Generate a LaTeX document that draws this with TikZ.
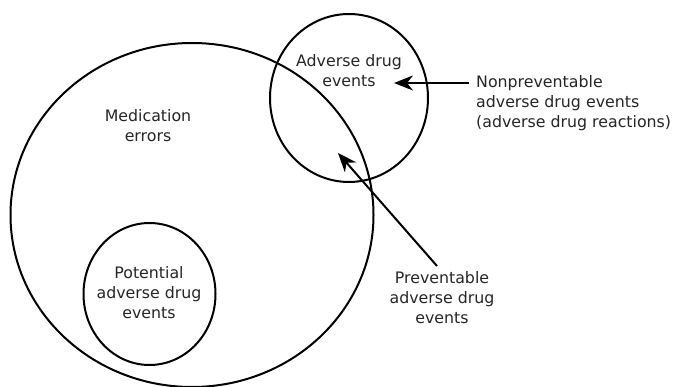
\documentclass[tikz,border=0pt]{standalone}
\usepackage{fontspec}
\setmainfont{DejaVu Sans}
\usetikzlibrary{shapes.geometric,arrows.meta}
\begin{document}
\begin{tikzpicture}[x=1pt,y=-1pt,
  ring/.style={draw=black,line width=2pt,ellipse,inner sep=0pt},
  lbl/.style={font=\fontsize{15.8}{20}\selectfont,align=center,inner sep=0pt,text=black!85},
  pointer/.style={line width=2pt,-{Stealth[length=19pt,width=15pt,inset=6pt]}}]
\useasboundingbox (0,0) rectangle (677,387);
\fill[white] (0,0) rectangle (677,387);
\node[ring,minimum width=363pt,minimum height=344pt] (me) at (192,215) {};
\node[ring,minimum width=158pt,minimum height=168pt] (ade) at (349,98) {};
\node[ring,minimum width=132pt,minimum height=142pt] (pot) at (149.5,294) {};
\node[lbl] (metxt) at (148,126) {Medication\\errors};
\node[lbl] (adetxt) at (349,71) {Adverse drug\\events};
\node[lbl] (pottxt) at (149,293) {Potential\\adverse drug\\events};
\node[lbl,align=left,anchor=west] (nptxt) at (476,103) {Nonpreventable\\adverse drug events\\(adverse drug reactions)};
\node[lbl] (pvtxt) at (442,298) {Preventable\\adverse drug\\events};
\coordinate (npstart) at (469,83);
\coordinate (nptip) at (394,83);
\coordinate (pvstart) at (437,266);
\coordinate (pvtip) at (338,153);
\draw[pointer] (npstart) -- (nptip);
\draw[pointer] (pvstart) -- (pvtip);
\end{tikzpicture}
\end{document}
